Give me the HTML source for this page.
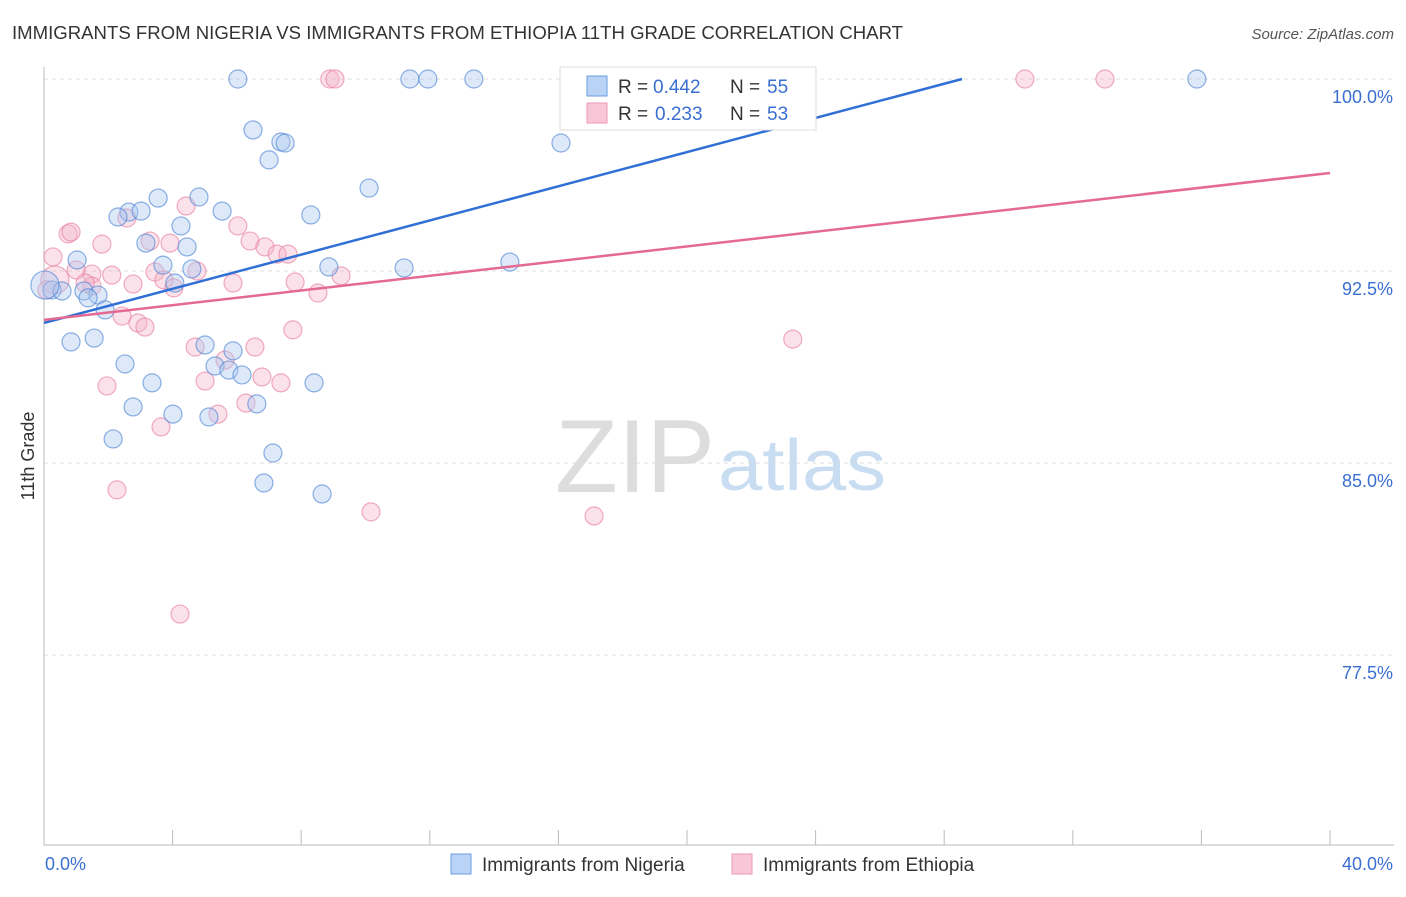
<!DOCTYPE html>
<html><head><meta charset="utf-8"><style>
body{margin:0;background:#fff;font-family:"Liberation Sans",sans-serif}
svg text{font-family:"Liberation Sans",sans-serif}
</style></head><body>
<svg id="chart" width="1406" height="892" viewBox="0 0 1406 892">
<text x="12" y="39" font-size="18" fill="#333" textLength="891" lengthAdjust="spacingAndGlyphs">IMMIGRANTS FROM NIGERIA VS IMMIGRANTS FROM ETHIOPIA 11TH GRADE CORRELATION CHART</text>
<text x="1394" y="39" font-size="15" fill="#555" font-style="italic" text-anchor="end">Source: ZipAtlas.com</text>
<text transform="translate(34,456) rotate(-90)" font-size="18" fill="#333" text-anchor="middle">11th Grade</text>
<g>
<text x="555" y="492" font-size="104" fill="#ddd" font-family="Liberation Serif,serif" textLength="160" lengthAdjust="spacingAndGlyphs">ZIP</text>
<text x="718" y="490" font-size="72" fill="#c8dcf2" textLength="168" lengthAdjust="spacingAndGlyphs">atlas</text>
</g>
<g id="grid"></g><g id="axes"></g>
<g id="points"></g><g id="lines"></g>
<g>
<rect x="560" y="67" width="256" height="63" fill="#fff" stroke="#ddd"/>
<rect x="587" y="76" width="20" height="20" fill="#b8d3f5" stroke="#6a9ee0"/>
<text x="618" y="93" font-size="19" fill="#333">R =</text><text x="653" y="93" font-size="19" fill="#3a6fd0">0.442</text>
<text x="730" y="93" font-size="19" fill="#333">N =</text><text x="767" y="93" font-size="19" fill="#3a6fd0">55</text>
<rect x="587" y="103" width="20" height="20" fill="#f8c6d6" stroke="#ec9ab6"/>
<text x="618" y="120" font-size="19" fill="#333">R =</text><text x="655" y="120" font-size="19" fill="#3a6fd0">0.233</text>
<text x="730" y="120" font-size="19" fill="#333">N =</text><text x="767" y="120" font-size="19" fill="#3a6fd0">53</text>
</g>
<g>
<rect x="451" y="854" width="20" height="20" fill="#b8d3f5" stroke="#6a9ee0"/>
<text x="482" y="871" font-size="19" fill="#333">Immigrants from Nigeria</text>
<rect x="732" y="854" width="20" height="20" fill="#f8c6d6" stroke="#ec9ab6"/>
<text x="763" y="871" font-size="19" fill="#333">Immigrants from Ethiopia</text>
</g>
</svg>
<script>
const yTicks=[100,92.5,85,77.5];
const yTickLabels=["100.0%","92.5%","85.0%","77.5%"];
const xTickLabels=["0.0%","40.0%"];
const nigeriaX=[6.03,11.38,11.94,13.37,16.67,35.86,6.50,7.37,7.50,7.00,16.08,10.11,3.55,4.82,2.64,3.02,2.30,5.54,8.30,4.26,3.17,4.45,1.03,3.70,4.60,8.86,11.20,14.49,0.25,0.56,1.24,1.68,1.37,1.90,0.84,1.56,4.07,5.01,5.88,2.52,5.32,5.75,6.16,3.36,8.40,2.77,4.01,5.13,6.62,2.15,7.12,6.84,8.65,0.03];
const nigeriaY=[100,100,100,100,100,100,98.01,97.54,97.50,96.84,97.50,95.74,95.35,95.39,94.80,94.84,94.61,94.84,94.69,94.26,93.59,93.44,92.93,92.73,92.58,92.66,92.62,92.85,91.76,91.72,91.72,91.56,91.45,90.98,89.73,89.88,92.03,89.61,89.38,88.87,88.79,88.63,88.44,88.13,88.13,87.19,86.91,86.80,87.31,85.94,85.39,84.22,83.79,91.95];
const ethiopiaX=[8.89,9.05,30.51,33.00,4.42,0.75,0.84,2.58,1.80,6.03,3.30,3.92,6.41,6.87,7.25,7.59,0.28,1.00,1.49,2.11,3.45,4.76,9.24,3.73,4.04,2.77,5.88,7.81,8.52,1.49,1.28,2.43,2.92,3.14,7.74,23.29,4.70,6.56,5.63,5.01,6.78,7.37,1.96,6.28,5.41,3.64,2.27,10.17,17.11,4.23,0.34,0.09];
const ethiopiaY=[100,100,100,100,95.04,93.95,94.02,94.57,93.55,94.26,93.67,93.59,93.67,93.44,93.16,93.16,93.05,92.54,92.38,92.34,92.46,92.50,92.31,92.15,91.84,91.99,92.03,92.07,91.64,91.91,92.03,90.74,90.47,90.31,90.20,89.84,89.53,89.53,89.02,88.20,88.36,88.13,88.01,87.34,86.91,86.41,83.95,83.09,82.93,79.10,92.15,91.76];
const nigeriaTrend=[90.47,103.82];
const ethiopiaTrend=[90.59,96.33];
const NS="http://www.w3.org/2000/svg";
const X=v=>44+v/40*1286, Y=v=>79+(100-v)/7.5*192;
function mk(t,a,p){const e=document.createElementNS(NS,t);for(const k in a)e.setAttribute(k,a[k]);p.appendChild(e);return e;}
const grid=document.getElementById('grid'),axes=document.getElementById('axes');
yTicks.forEach((t,i)=>{
 const l=mk('line',{x1:44,x2:1394,y1:Y(t),y2:Y(t),stroke:'#ddd','stroke-dasharray':'4,4'},grid);
 
 
 const tx=mk('text',{x:1393,y:Y(t)+24,'font-size':18,fill:'#3a6fd0','text-anchor':'end'},axes);
 tx.textContent=yTickLabels[i];
 
 
});
const ya=mk('line',{x1:44,x2:44,y1:67,y2:845,stroke:'#bbb'},axes);


const xa=mk('line',{x1:44,x2:1394,y1:845,y2:845,stroke:'#bbb'},axes);


for(let i=0;i<=10;i++){const t=mk('line',{x1:X(i*4),x2:X(i*4),y1:830,y2:845,stroke:'#bbb'},axes);
 
 }
[[0,'start',45],[40,'end',1393]].forEach((d,i)=>{const t=mk('text',{x:d[2],y:870,'font-size':18,fill:'#3a6fd0','text-anchor':d[1]},axes);t.textContent=xTickLabels[i];
 
 });
const pts=document.getElementById('points');
function series(xs,ys,fill,stroke,name){xs.forEach((x,i)=>{const big=i===xs.length-1&&name==='nigeria-point'||i===xs.length-2&&name==='ethiopia-point';
 const c=mk('circle',{cx:X(x),cy:Y(ys[i]),r:big?14:9,fill:fill,'fill-opacity':0.4,stroke:stroke,'stroke-opacity':0.65,'stroke-width':1.2},pts);
 
 });}
series(ethiopiaX,ethiopiaY,'#f5b3c8','#e8819f','ethiopia-point');
series(nigeriaX,nigeriaY,'#a9c8f0','#4f86d6','nigeria-point');
const lg=document.getElementById('lines');
const bx=(100-nigeriaTrend[0])/(nigeriaTrend[1]-nigeriaTrend[0])*40;
const bl=mk('line',{x1:X(0),y1:Y(nigeriaTrend[0]),x2:X(bx),y2:Y(100),stroke:'#2f6fd6','stroke-width':2.5},lg);


const pl=mk('line',{x1:X(0),y1:Y(ethiopiaTrend[0]),x2:X(40),y2:Y(ethiopiaTrend[1]),stroke:'#e46a93','stroke-width':2.5},lg);


</script>
</body></html>
